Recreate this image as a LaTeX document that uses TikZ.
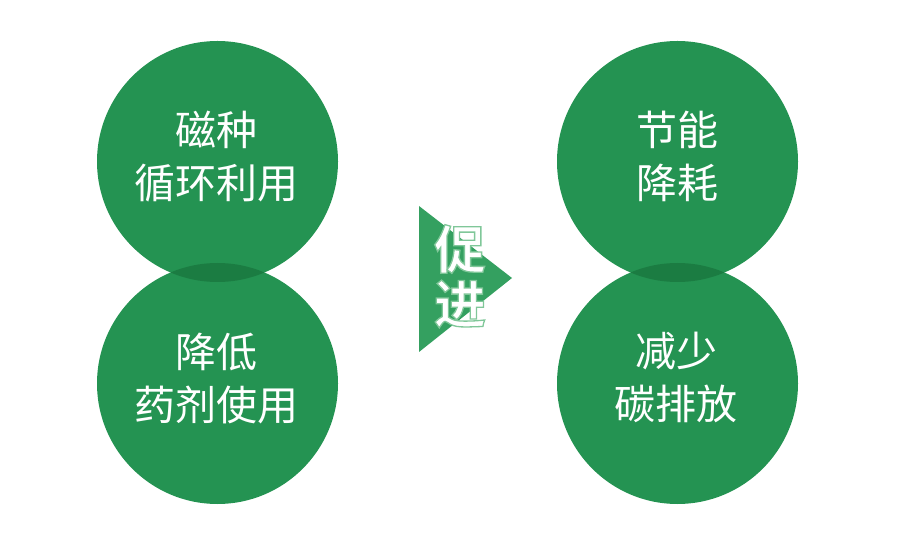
\documentclass[tikz,border=0pt]{standalone}
\usepackage{fontspec}
\setmainfont{Noto Sans CJK SC}
\newfontfamily\arrowfont[FakeBold=2.5]{Noto Sans CJK SC Bold}
\definecolor{cgreen}{RGB}{36,147,82}
\definecolor{cdark}{RGB}{27,124,66}
\definecolor{tgreen}{RGB}{52,160,96}
\tikzset{
  disc/.style={fill=cgreen},
  lbl/.style={text=white, align=center, font=\fontsize{41}{53}\selectfont, inner sep=0pt},
  big/.style={font=\arrowfont\fontsize{52}{52}\selectfont, inner sep=0pt}
}
\newcommand{\outl}[1]{{\color{white}\special{pdf:code 0.50 0.78 0.60 RG}#1}}
\begin{document}
\begin{tikzpicture}[x=1pt,y=-1pt]
\useasboundingbox (0,0) rectangle (924,553);
% left pair
\fill[disc] (217.5,161.5) circle (120.5);
\fill[disc] (217.5,383.5) circle (120.5);
\begin{scope}
\clip (217.5,161.5) circle (120.5);
\fill[cdark] (217.5,383.5) circle (120.5);
\end{scope}
% right pair
\fill[disc] (677.5,161.5) circle (120.5);
\fill[disc] (677.5,383.5) circle (120.5);
\begin{scope}
\clip (677.5,161.5) circle (120.5);
\fill[cdark] (677.5,383.5) circle (120.5);
\end{scope}
% labels
\node[lbl] (t1) at (216,157) {磁种\\循环利用};
\node[lbl] (t2) at (216,379) {降低\\药剂使用};
\node[lbl] (t3) at (677,156) {节能\\降耗};
\node[lbl] (t4) at (676,377.5) {减少\\碳排放};
% arrow
\fill[tgreen] (419,206) -- (512,278) -- (419,352) -- cycle;
\node[big] (c1) at (460,249) {\outl{促}};
\node[big] (c2) at (460,304) {\outl{进}};
\end{tikzpicture}
\end{document}
